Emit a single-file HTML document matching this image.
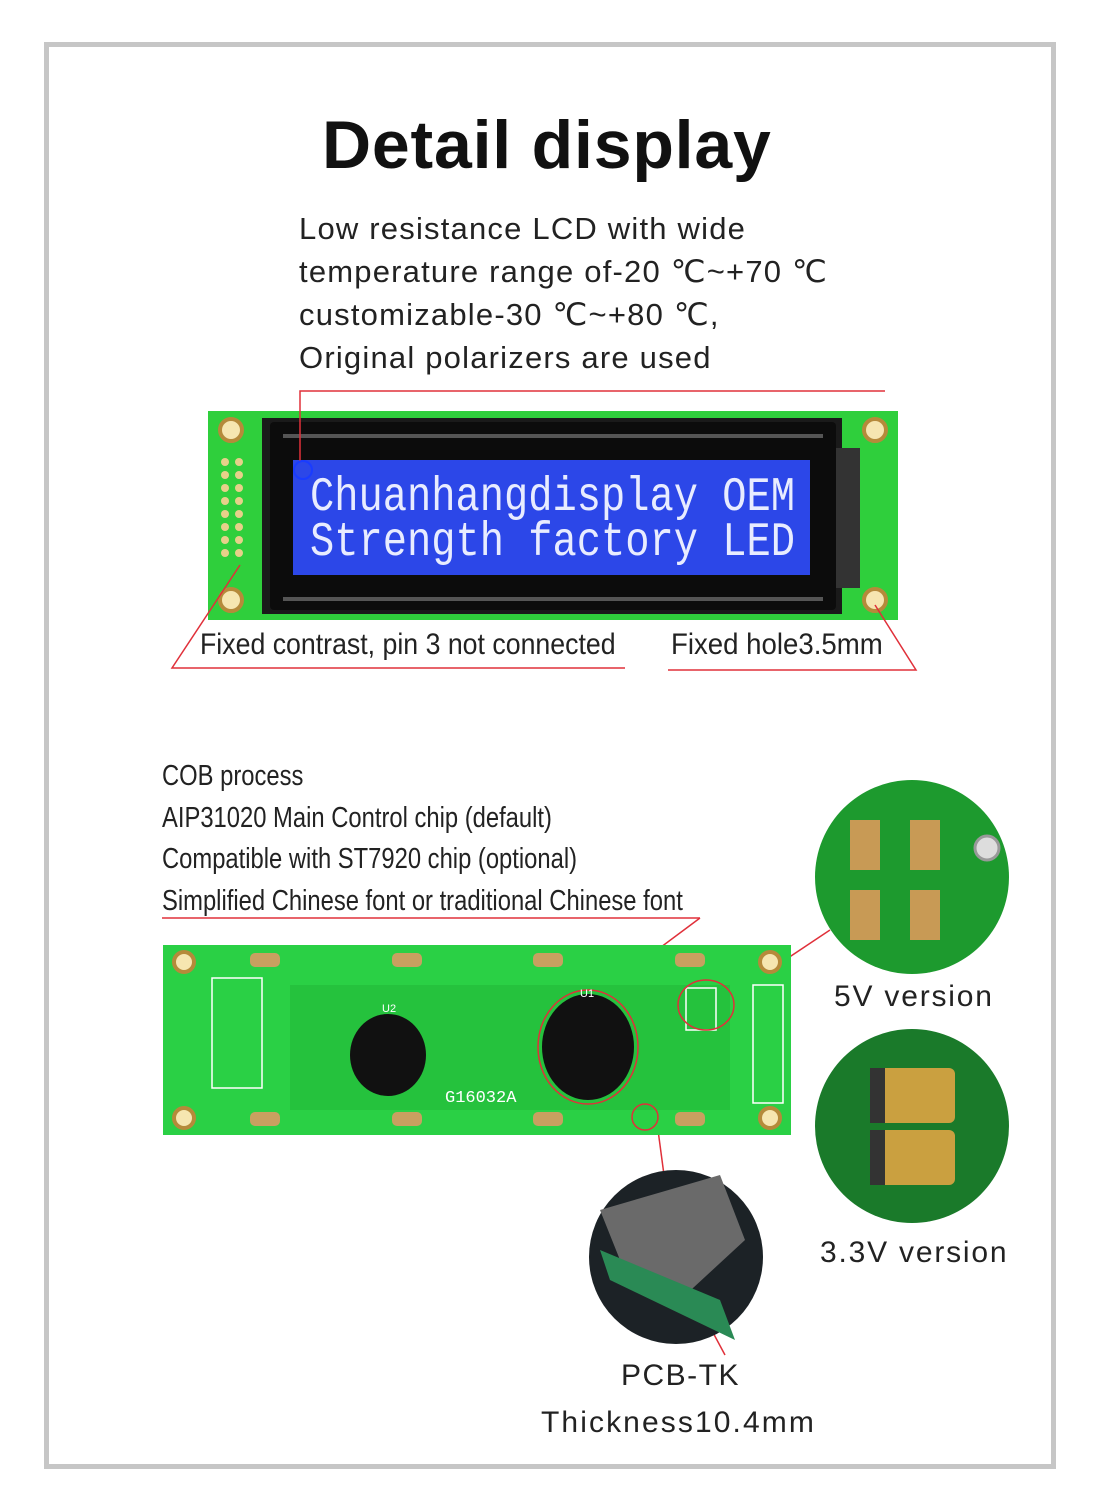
<!DOCTYPE html>
<html><head><meta charset="utf-8"><style>
html,body{margin:0;padding:0;background:#fff;}
body{width:1097px;height:1510px;position:relative;overflow:hidden;font-family:"Liberation Sans",sans-serif;}
.t{position:absolute;white-space:nowrap;color:#222;}
</style></head><body>
<div style="position:absolute;left:44px;top:42px;width:1002px;height:1417px;border:5px solid #c6c6c6;"></div>
<div class="t" style="left:322px;top:106px;font-size:68px;font-weight:bold;color:#111;letter-spacing:0.8px;">Detail display</div>
<div class="t" style="left:299px;top:207px;font-size:31px;line-height:43px;letter-spacing:1.2px;">Low resistance LCD with wide<br>temperature range of-20 ℃~+70 ℃<br>customizable-30 ℃~+80 ℃,<br>Original polarizers are used</div>

<svg style="position:absolute;left:0;top:0" width="1097" height="1510">
 <rect x="208" y="411" width="690" height="209" fill="#2fcf3c"/>
 <rect x="262" y="418" width="580" height="196" fill="#1a1a1a"/>
 <rect x="270" y="422" width="566" height="188" fill="#0c0c0c" rx="4"/>
 <rect x="836" y="448" width="24" height="140" fill="#333"/>
 <rect x="293" y="460" width="517" height="115" fill="#2c47e8"/>
 <rect x="283" y="434" width="540" height="4" fill="#555"/>
 <rect x="283" y="597" width="540" height="4" fill="#555"/>
 <g fill="#f6e6b0" stroke="#b58a3a" stroke-width="4">
  <circle cx="231" cy="430" r="11"/><circle cx="875" cy="430" r="11"/>
  <circle cx="231" cy="600" r="11"/><circle cx="875" cy="600" r="11"/>
 </g>
 <g fill="#e7d08a">
  <circle cx="225" cy="462" r="4"/><circle cx="239" cy="462" r="4"/>
  <circle cx="225" cy="475" r="4"/><circle cx="239" cy="475" r="4"/>
  <circle cx="225" cy="488" r="4"/><circle cx="239" cy="488" r="4"/>
  <circle cx="225" cy="501" r="4"/><circle cx="239" cy="501" r="4"/>
  <circle cx="225" cy="514" r="4"/><circle cx="239" cy="514" r="4"/>
  <circle cx="225" cy="527" r="4"/><circle cx="239" cy="527" r="4"/>
  <circle cx="225" cy="540" r="4"/><circle cx="239" cy="540" r="4"/>
  <circle cx="225" cy="553" r="4"/><circle cx="239" cy="553" r="4"/>
 </g>
 <text x="310" y="510" font-family="Liberation Mono,monospace" font-size="48" fill="#e8ecff" textLength="485" lengthAdjust="spacingAndGlyphs">Chuanhangdisplay OEM</text>
 <text x="310" y="555" font-family="Liberation Mono,monospace" font-size="48" fill="#e8ecff" textLength="485" lengthAdjust="spacingAndGlyphs">Strength factory LED</text>
 <g stroke="#e0303a" stroke-width="1.5" fill="none">
  <polyline points="885,391 300,391 300,462"/>
  <circle cx="303" cy="470" r="9" stroke="#1a3cff" stroke-width="2"/>
  <polyline points="240,565 172,668 625,668"/>
  <polyline points="875,605 916,670 668,670"/>
  <line x1="162" y1="918" x2="700" y2="918"/>
  <line x1="700" y1="918" x2="590" y2="1000"/>
  <line x1="830" y1="930" x2="740" y2="990"/>
  <line x1="658" y1="1130" x2="664" y2="1175"/>
  <line x1="658" y1="1230" x2="725" y2="1355"/>
 </g>
 <rect x="163" y="945" width="628" height="190" fill="#2ad045"/>
 <rect x="290" y="985" width="440" height="125" fill="#25c23d"/>
 <g fill="#f6e6b0" stroke="#b58a3a" stroke-width="4">
  <circle cx="184" cy="962" r="10"/><circle cx="770" cy="962" r="10"/>
  <circle cx="184" cy="1118" r="10"/><circle cx="770" cy="1118" r="10"/>
 </g>
 <g fill="#c8a060">
  <rect x="250" y="953" width="30" height="14" rx="5"/><rect x="392" y="953" width="30" height="14" rx="5"/><rect x="533" y="953" width="30" height="14" rx="5"/><rect x="675" y="953" width="30" height="14" rx="5"/>
  <rect x="250" y="1112" width="30" height="14" rx="5"/><rect x="392" y="1112" width="30" height="14" rx="5"/><rect x="533" y="1112" width="30" height="14" rx="5"/><rect x="675" y="1112" width="30" height="14" rx="5"/>
 </g>
 <g stroke="#fff" stroke-width="1.5" fill="none">
  <rect x="212" y="978" width="50" height="110"/>
  <rect x="686" y="988" width="30" height="42"/>
  <rect x="753" y="985" width="30" height="118"/>
 </g>
 <ellipse cx="388" cy="1055" rx="38" ry="41" fill="#111"/>
 <ellipse cx="588" cy="1047" rx="46" ry="53" fill="#111"/>
 <ellipse cx="588" cy="1047" rx="50" ry="57" fill="none" stroke="#e0303a" stroke-width="1.5"/>
 <ellipse cx="706" cy="1005" rx="28" ry="25" fill="none" stroke="#e0303a" stroke-width="1.5"/>
 <circle cx="645" cy="1117" r="13" fill="none" stroke="#e0303a" stroke-width="1.5"/>
 <text x="445" y="1102" font-family="Liberation Mono,monospace" font-size="17" fill="#fff">G16032A</text>
 <text x="382" y="1012" font-size="11" fill="#fff">U2</text>
 <text x="580" y="997" font-size="11" fill="#fff">U1</text>
 <circle cx="912" cy="877" r="97" fill="#1d9a2e"/>
 <g fill="#c89a55"><rect x="850" y="820" width="30" height="50"/><rect x="910" y="820" width="30" height="50"/><rect x="850" y="890" width="30" height="50"/><rect x="910" y="890" width="30" height="50"/></g>
 <circle cx="987" cy="848" r="12" fill="#ddd" stroke="#999" stroke-width="3"/>
 <circle cx="912" cy="1126" r="97" fill="#1a7a2a"/>
 <rect x="870" y="1068" width="85" height="55" rx="6" fill="#caa040"/>
 <rect x="870" y="1130" width="85" height="55" rx="6" fill="#caa040"/>
 <rect x="870" y="1068" width="15" height="55" fill="#333"/><rect x="870" y="1130" width="15" height="55" fill="#333"/>
 <circle cx="676" cy="1257" r="87" fill="#1c2226"/>
 <polygon points="600,1210 720,1175 745,1240 680,1300 620,1260" fill="#6a6a6a"/>
 <polygon points="600,1250 720,1300 735,1340 610,1280" fill="#2a8a55"/>
</svg>

<div class="t" style="left:200px;top:628px;font-size:30px;transform:scaleX(0.89);transform-origin:left;">Fixed contrast, pin 3 not connected</div>
<div class="t" style="left:671px;top:628px;font-size:30px;transform:scaleX(0.92);transform-origin:left;">Fixed hole3.5mm</div>
<div class="t" style="left:162px;top:756px;font-size:29px;line-height:41.5px;transform:scaleX(0.82);transform-origin:left;">COB process<br>AIP31020 Main Control chip (default)<br>Compatible with ST7920 chip (optional)<br>Simplified Chinese font or traditional Chinese font</div>
<div class="t" style="left:834px;top:980px;font-size:30px;letter-spacing:1.8px;">5V version</div>
<div class="t" style="left:820px;top:1236px;font-size:30px;letter-spacing:1.8px;">3.3V version</div>
<div class="t" style="left:621px;top:1359px;font-size:30px;letter-spacing:1.5px;">PCB-TK</div>
<div class="t" style="left:541px;top:1406px;font-size:30px;letter-spacing:2.1px;">Thickness10.4mm</div>
</body></html>
